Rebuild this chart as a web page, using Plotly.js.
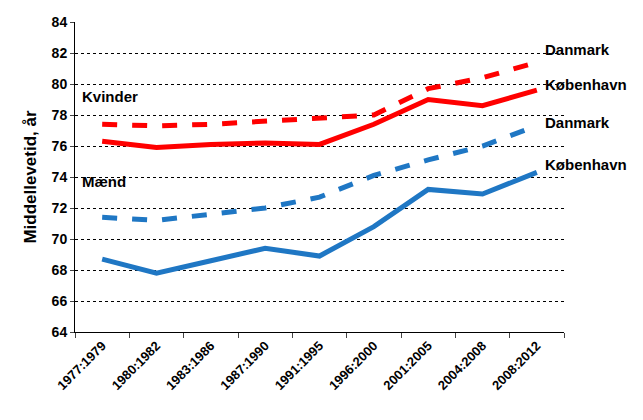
<!DOCTYPE html>
<html>
<head>
<meta charset="utf-8">
<script src="https://cdn.plot.ly/plotly-3.0.1.min.js"></script>
<style>body{margin:0}#chart{width:643px;height:420px}</style>
</head>
<body>
<div id="chart"></div>
<script>
var periods = ["1977:1979","1980:1982","1983:1986","1987:1990","1991:1995","1996:2000","2001:2005","2004:2008","2008:2012"];
var womenDK = [77.4, 77.3, 77.4, 77.6, 77.8, 78.0, 79.7, 80.4, 81.4];
var womenCph = [76.3, 75.9, 76.1, 76.2, 76.1, 77.4, 79.0, 78.6, 79.6];
var menDK = [71.4, 71.2, 71.6, 72.0, 72.7, 74.1, 75.1, 76.0, 77.3];
var menCph = [68.7, 67.8, 68.6, 69.4, 68.9, 70.8, 73.2, 72.9, 74.3];

var red = "#ff0000", blue = "#1f77c4";
function tr(y, color, dash) {
    return {x: periods, y: y, mode: "lines", type: "scatter",
        line: {color: color, width: 5, dash: dash}, hoverinfo: "skip"};
}
var data = [tr(womenDK, red, "dash"), tr(womenCph, red, "solid"),
            tr(menDK, blue, "dash"), tr(menCph, blue, "solid")];

var fam = "Liberation Sans, Arial";
function lab(text, x, y) {
    return {text: "<b>" + text + "</b>", xref: "paper", yref: "y", x: x, y: y, xanchor: "left",
        showarrow: false, font: {family: fam, size: 15, color: "#000"}};
}
var layout = {
    width: 643, height: 420,
    margin: {l: 75, r: 79, t: 22, b: 88},
    paper_bgcolor: "#fff", plot_bgcolor: "#fff",
    showlegend: false,
    xaxis: {type: "category", range: [-0.5, 8.5], tickangle: -45, showgrid: false, showline: true,
        linecolor: "#000", linewidth: 1, ticks: "outside", ticklen: 5, tickson: "boundaries",
        tickprefix: "<b>", ticksuffix: "</b>",
        tickfont: {family: fam, size: 13, color: "#000"}},
    yaxis: {range: [64, 84], dtick: 2, showline: true, linecolor: "#000",
        gridcolor: "#000", griddash: "dot", gridwidth: 1, zeroline: false,
        ticks: "outside", ticklen: 4, tickprefix: "<b>", ticksuffix: "</b>",
        tickfont: {family: fam, size: 14, color: "#000"},
        title: {text: "<b>Middellevetid, år</b>", font: {family: fam, size: 17, color: "#000"}, standoff: 10}},
    annotations: [
        lab("Danmark", 0.957, 82.2),
        lab("København", 0.957, 80.0),
        lab("Danmark", 0.957, 77.5),
        lab("København", 0.957, 74.8),
        lab("Kvinder", 0.01, 79.2),
        lab("Mænd", 0.01, 73.7)
    ]
};
Plotly.newPlot("chart", data, layout, {displayModeBar: false});
</script>
</body>
</html>
